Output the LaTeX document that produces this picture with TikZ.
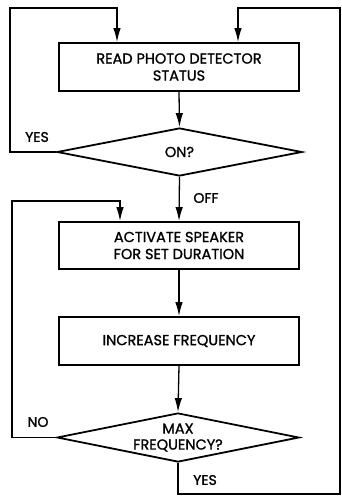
\documentclass[tikz,border=0pt]{standalone}
\usepackage{fontspec}
\setmainfont{Poppins}[FakeBold=1.2]
\usetikzlibrary{shapes.geometric,arrows.meta}
\tikzset{
  procbox/.style={draw, line width=1.8pt, minimum width=240pt, minimum height=48pt, inner sep=0pt, align=center, font=\fontsize{14.5}{17}\selectfont},
  decbox/.style={draw, line width=1.8pt, diamond, aspect=5, inner sep=0pt, align=center, font=\fontsize{14.5}{16}\selectfont},
  arr/.style={line width=1.3pt, -{Latex[length=14pt,width=7.5pt]}},
  lbl/.style={font=\fontsize{14}{16}\selectfont, inner sep=0pt},
}
\begin{document}
\begin{tikzpicture}[x=1pt,y=-1pt]
\useasboundingbox (0,0) rectangle (341,498);
\node[procbox] (read) at (179,67) {READ PHOTO DETECTOR\\STATUS};
\node[decbox, minimum width=245pt, minimum height=48pt] (on) at (179.5,152) {ON?};
\node[procbox, minimum height=47pt] (act) at (179,245.5) {ACTIVATE SPEAKER\\FOR SET DURATION};
\node[procbox] (inc) at (179,341) {INCREASE FREQUENCY};
\node[decbox, minimum width=242pt, minimum height=49pt] (max) at (178,437.5) {MAX\\FREQUENCY?};
\coordinate (t1) at (10,8);
\coordinate (t2) at (12,201);
\coordinate (tr) at (340,8);
\coordinate (br) at (340,494);
\draw[arr] (read.south) -- (on.north);
\draw[arr] (on.south) -- (act.north);
\draw[arr] (act.south) -- (inc.north);
\draw[arr] (inc.south) -- (max.north);
\draw[arr] (on.west) -| (t1) -| ([xshift=-62pt]read.north);
\draw[arr] (max.west) -| (t2) -| ([xshift=-59pt]act.north);
\draw[arr] (max.south) |- (br) -- (tr) -| ([xshift=59pt]read.north);
\node[lbl] (yes1) at (37,137) {YES};
\node[lbl] (off) at (206,198) {OFF};
\node[lbl] (no) at (38,422) {NO};
\node[lbl] (yes2) at (205,480) {YES};
\end{tikzpicture}
\end{document}
